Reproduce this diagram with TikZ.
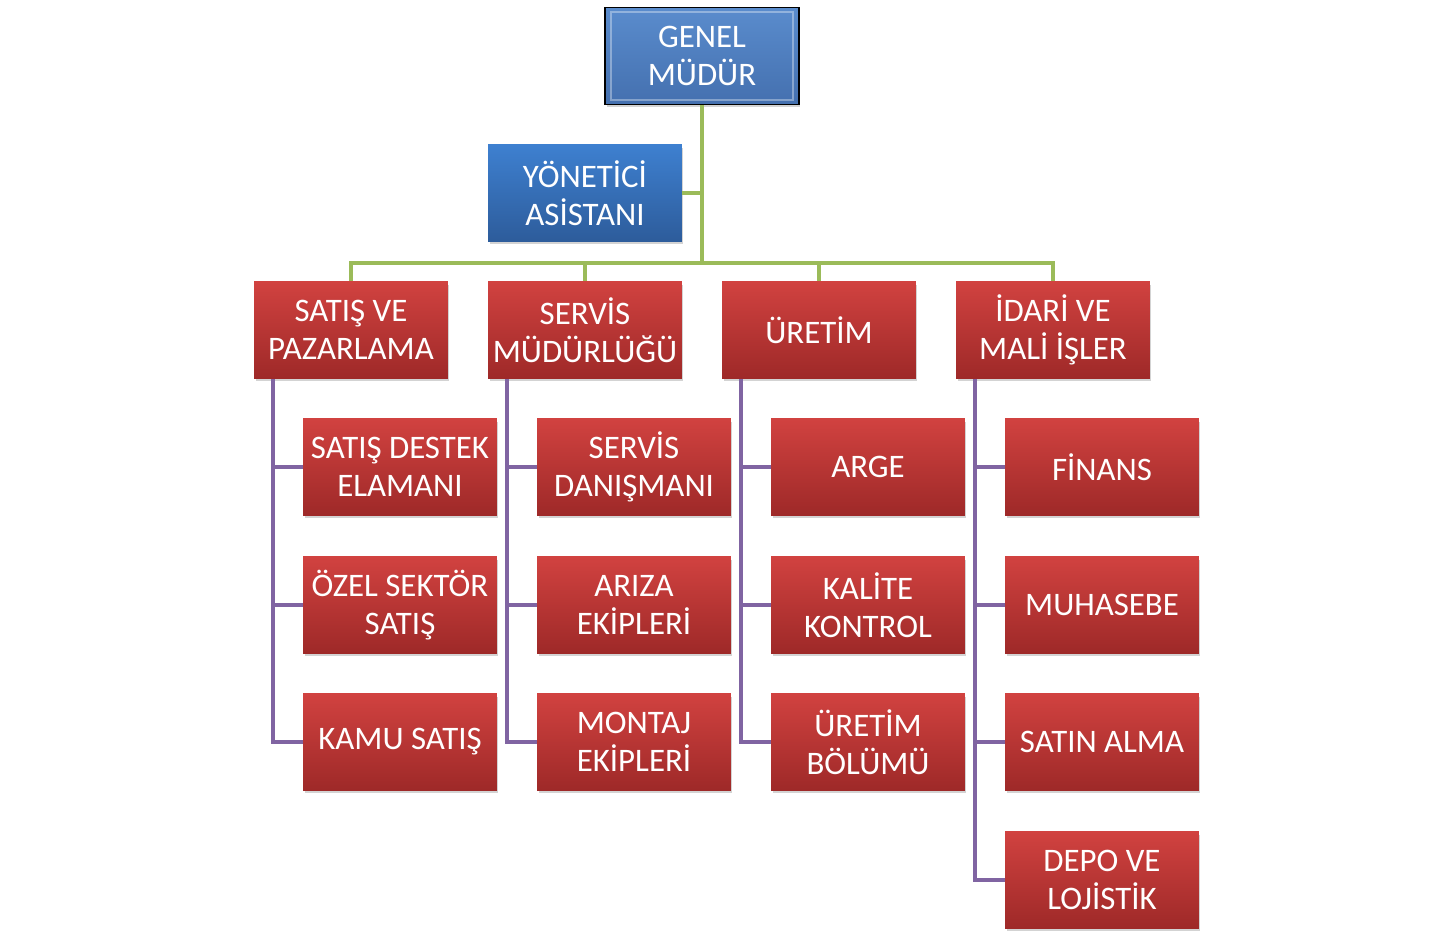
\documentclass[tikz,border=0pt]{standalone}
\usepackage{fontspec}
\setmainfont{Carlito}
\usepackage{tikz}
\usetikzlibrary{shadows}
\usetikzlibrary{positioning}

\definecolor{boxred}{RGB}{209,66,64}
\definecolor{boxreddark}{RGB}{158,41,40}
\definecolor{boxblue}{RGB}{62,128,208}
\definecolor{boxbluedark}{RGB}{45,92,155}
\definecolor{gmblue}{RGB}{90,140,205}
\definecolor{gmbluedark}{RGB}{68,112,175}
\definecolor{linegreen}{RGB}{155,187,89}
\definecolor{linepurple}{RGB}{128,100,162}

\begin{document}
\begin{tikzpicture}[x=0.02cm,y=-0.02cm]
		\tikzstyle{every node}+=[inner sep=0pt, text=white, align=center, font=\fontsize{18.7}{21.5}\selectfont]
		\tikzstyle{unit}=[rectangle, minimum width=3.88cm, minimum height=1.94cm,
			drop shadow={opacity=0.35, shadow xshift=0.03cm, shadow yshift=-0.06cm}]
		\tikzstyle{redbox}=[unit, top color=boxred, bottom color=boxreddark]
		\tikzstyle{bluebox}=[unit, top color=boxblue, bottom color=boxbluedark]
		\tikzstyle{headbox}=[unit, top color=gmblue, bottom color=gmbluedark, draw=black, line width=0.9pt]
		\tikzstyle{busline}=[linegreen, line width=0.08cm]
		\tikzstyle{subline}=[linepurple, line width=0.08cm]
		\useasboundingbox (0,0) rectangle (1453,949);
		% top
		\node [headbox] (gm) at (702,56) {GENEL\\MÜDÜR};
		\draw [white, opacity=0.35, line width=1.2pt] ([shift={(0.14cm,0.1cm)}]gm.south west) rectangle ([shift={(-0.14cm,-0.1cm)}]gm.north east);
		\node [bluebox] (ya) at (585,193) {YÖNETİCİ\\ASİSTANI};
		\coordinate (bus) at (702,263);
		% departments
		\node [redbox] (sp) at (351,330) {SATIŞ VE\\PAZARLAMA};
		\node [redbox] (sm) at (585,330) {SERVİS\\MÜDÜRLÜĞÜ};
		\node [redbox] (ur) at (819,330) {ÜRETİM};
		\node [redbox] (im) at (1053,330) {İDARİ VE\\MALİ İŞLER};
		% units
		\node [redbox] (sp1) at (400,467) {SATIŞ DESTEK\\ELAMANI};
		\node [redbox] (sp2) at (400,605) {ÖZEL SEKTÖR\\SATIŞ};
		\node [redbox] (sp3) at (400,742) {KAMU SATIŞ};
		\node [redbox] (sm1) at (634,467) {SERVİS\\DANIŞMANI};
		\node [redbox] (sm2) at (634,605) {ARIZA\\EKİPLERİ};
		\node [redbox] (sm3) at (634,742) {MONTAJ\\EKİPLERİ};
		\node [redbox] (ur1) at (868,467) {ARGE};
		\node [redbox] (ur2) at (868,605) {KALİTE\\KONTROL};
		\node [redbox] (ur3) at (868,742) {ÜRETİM\\BÖLÜMÜ};
		\node [redbox] (im1) at (1102,467) {FİNANS};
		\node [redbox] (im2) at (1102,605) {MUHASEBE};
		\node [redbox] (im3) at (1102,742) {SATIN ALMA};
		\node [redbox] (im4) at (1102,880) {DEPO VE\\LOJİSTİK};
		% green lines
		\draw [busline] (gm.south) -- (bus);
		\draw [busline] (ya.east) -- (ya.east -| bus);
		\draw [busline] (sp.north) |- (bus) -| (im.north);
		\draw [busline] (sm.north) -- (sm.north |- bus);
		\draw [busline] (ur.north) -- (ur.north |- bus);
		% purple lines
		\foreach \d/\n in {sp/3, sm/3, ur/3, im/4}
			\foreach \k in {1,...,\n}
				\draw [subline] ([xshift=0.38cm]\d.south west) |- (\d\k.west);
		\end{tikzpicture}
\end{document}
